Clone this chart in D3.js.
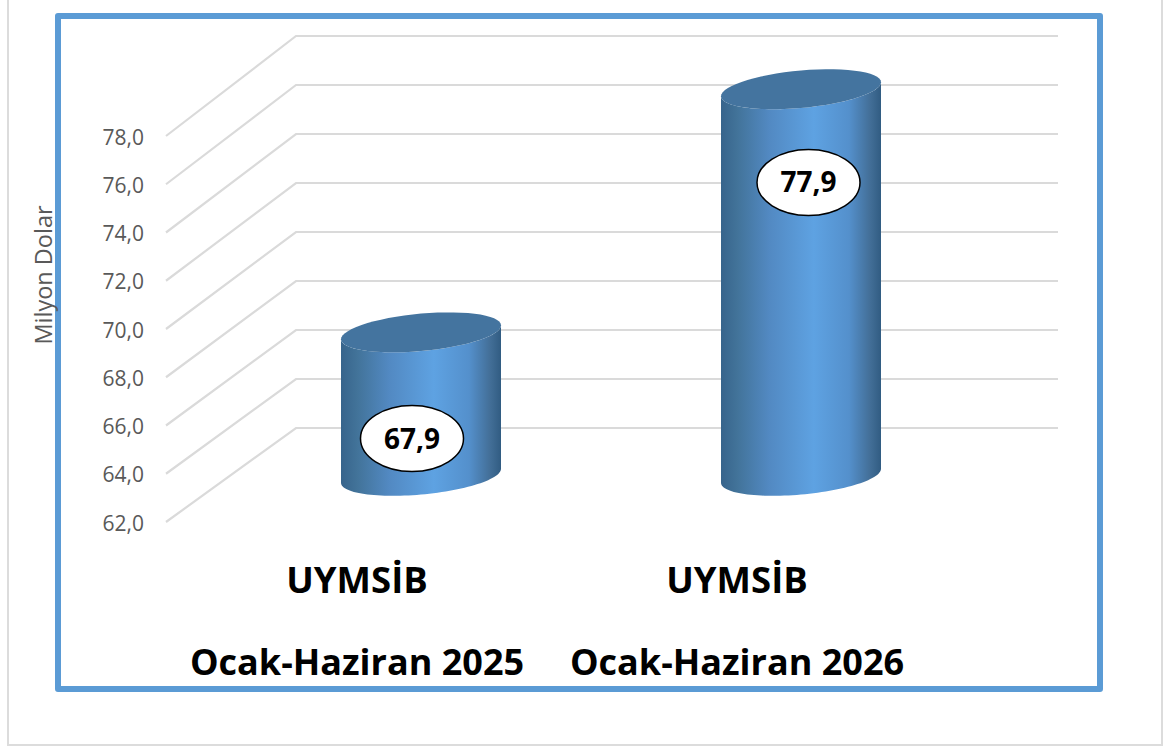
<!DOCTYPE html>
<html><head><meta charset="utf-8">
<style>html,body{margin:0;padding:0;background:#fff}svg{display:block}</style>
<script src="https://cdn.jsdelivr.net/npm/d3@7"></script>
</head><body><svg id="c" width="1168" height="747"></svg>
<script>
const categories = ["Ocak-Haziran 2025", "Ocak-Haziran 2026"];
const seriesName = "UYMSİB";
const values = [67.9, 77.9];
const valueLabels = ["67,9", "77,9"];
const tickValues = [62, 64, 66, 68, 70, 72, 74, 76, 78];
const axisTitle = "Milyon Dolar";

const svg = d3.select("#c");
const font = "'Open Sans', sans-serif";
const depthX = 130;
const yFront = d3.scaleLinear().domain([62, 78]).range([522, 136]);
const yBack = d3.scaleLinear().domain([62, 78]).range([428, 36]);
const yMid = v => (yFront(v) + yBack(v)) / 2;
const x = d3.scaleBand().domain(categories).range([166, 926]);
const fmt = d3.formatLocale({decimal: ",", thousands: ".", grouping: [3], currency: ["", ""]}).format(".1f");

// frames
svg.append("path").attr("d", "M8,-2V745H1162V-2").attr("fill", "none").attr("stroke", "#dcdcdc").attr("stroke-width", 2);
svg.append("rect").attr("x", 58).attr("y", 16).attr("width", 1042).attr("height", 673)
  .attr("fill", "#fff").attr("stroke", "#5b9bd5").attr("stroke-width", 6).attr("stroke-linejoin", "round");

// gridlines: side wall + back wall
const x0 = x.range()[0], xb = x0 + depthX, xEnd = 1058;
svg.append("g").selectAll("path").data(tickValues).join("path")
  .attr("d", d => `M${x0},${yFront(d)}L${xb},${yBack(d)}H${xEnd}`)
  .attr("fill", "none").attr("stroke", "#dadada").attr("stroke-width", 2.2);

// value axis
const yAxis = svg.append("g").attr("transform", "translate(144,1.5)")
  .call(d3.axisLeft(yFront).tickValues(tickValues).tickFormat(fmt).tickSize(0).tickPadding(0));
yAxis.select(".domain").remove();
yAxis.selectAll("text").attr("font-family", font).attr("font-size", 21).attr("fill", "#595959");

svg.append("text").attr("transform", "translate(46,275) rotate(-90)").attr("text-anchor", "middle")
  .attr("dominant-baseline", "middle").attr("font-family", font).attr("font-size", 23.5).attr("fill", "#595959").text(axisTitle);

// gradient
const defs = svg.append("defs");
const g = defs.append("linearGradient").attr("id", "cyl").attr("x1", 0).attr("x2", 1).attr("y1", 0).attr("y2", 0);
[[0, "#37648c"], [0.1, "#427399"], [0.3, "#5289c2"], [0.58, "#5ea2e2"], [0.8, "#5490cc"], [0.93, "#436f98"], [1, "#315c82"]]
  .forEach(s => g.append("stop").attr("offset", s[0]).attr("stop-color", s[1]));

// cylinders
const rx = 80, ry = 20, shear = 7;
const pts = (cx, cy, from, to) => d3.range(0, 61).map(i => {
  const t = from + (to - from) * i / 60;
  const k = Math.sqrt(ry * ry - shear * shear);
  return [cx + rx * Math.cos(t), cy - shear * Math.cos(t) + k * Math.sin(t)];
});
const line = d3.line();
const bars = svg.append("g").attr("transform", "translate(0,0.8)").selectAll("g").data(values).join("g");
bars.append("path").attr("fill", "url(#cyl)").attr("d", (d, i) => {
  const cx = x(categories[i]) + x.bandwidth() / 2 + depthX / 2;
  const top = yMid(d), bot = yMid(62);
  const lower = pts(cx, bot, 0, Math.PI);
  const upper = pts(cx, top, Math.PI, 0);
  return line(lower.concat(upper)) + "Z";
});
bars.append("path").attr("fill", "#44749f").attr("d", (d, i) => {
  const cx = x(categories[i]) + x.bandwidth() / 2 + depthX / 2;
  return line(pts(cx, yMid(d), 0, 2 * Math.PI)) + "Z";
});

// data labels
const labelOffset = [[-9, 107], [7.5, 94]];
const labels = svg.append("g").selectAll("g").data(values).join("g")
  .attr("transform", (d, i) => {
    const cx = x(categories[i]) + x.bandwidth() / 2 + depthX / 2;
    return `translate(${cx + labelOffset[i][0]},${yMid(d) + labelOffset[i][1]})`;
  });
labels.append("ellipse").attr("rx", 51.5).attr("ry", 33).attr("fill", "#fff").attr("stroke", "#000").attr("stroke-width", 1.5);
labels.append("text").attr("text-anchor", "middle").attr("y", 10).attr("font-family", font).attr("font-weight", 700)
  .attr("font-size", 28).attr("fill", "#000").text((d, i) => valueLabels[i]);

// categories
const cats = svg.append("g").selectAll("g").data(categories).join("g")
  .attr("transform", d => `translate(${x(d) + x.bandwidth() / 2},0)`);
cats.append("text").attr("y", 593).attr("x", 1).attr("text-anchor", "middle").attr("font-family", font).attr("font-weight", 700)
  .attr("font-size", 36.5).attr("fill", "#000").text(seriesName);
cats.append("text").attr("y", 675).attr("x", 1).attr("text-anchor", "middle").attr("font-family", font).attr("font-weight", 700)
  .attr("font-size", 36).attr("fill", "#000").text(d => d);
</script></body></html>
